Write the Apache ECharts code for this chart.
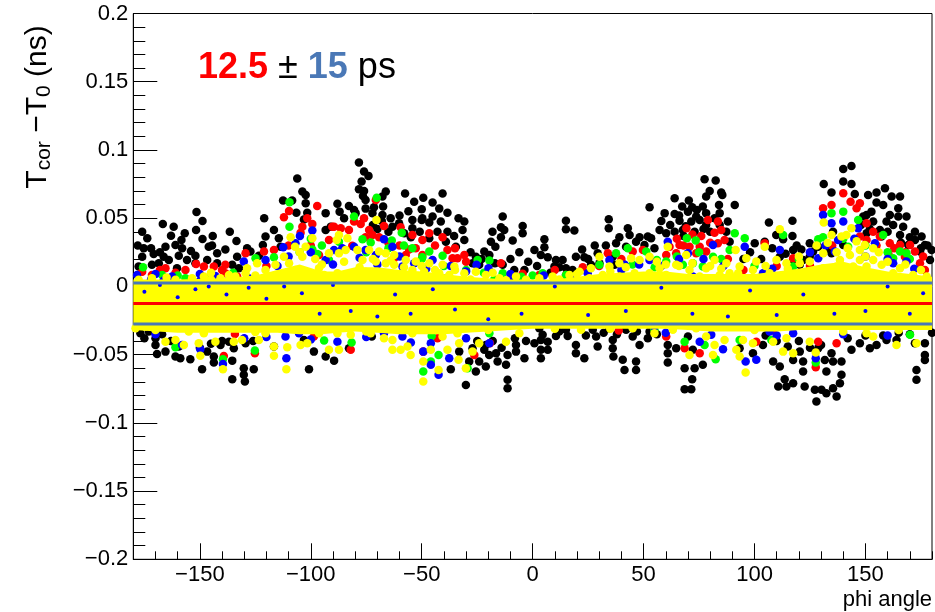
<!DOCTYPE html>
<html><head><meta charset="utf-8">
<script src="https://cdn.jsdelivr.net/npm/echarts@6/dist/echarts.min.js"></script>
<style>html,body{margin:0;padding:0;background:#fff}#c{width:935px;height:612px}</style>
</head><body><div id="c"></div>
<script>
const xRange = [-180, 180];
const yRange = [-0.2, 0.2];
const xMajorTicks = [-150, -100, -50, 0, 50, 100, 150];
const meanValue = -0.0125;
const bandLines = [0.0025, -0.0275];

// envelope of the region saturated by overlapping yellow markers
const corePhi    = [-180,-160,-140,-125,-115,-105,-95,-88,-80,-70,-60,-50,-40,-30,-20,-10,0,10,20,30,40,50,60,70,80,90,100,110,120,130,140,150,160,170,180];
const coreTop    = [0.005,0.005,0.006,0.008,0.012,0.016,0.011,0.011,0.014,0.014,0.012,0.011,0.009,0.007,0.006,0.005,0.005,0.005,0.007,0.009,0.010,0.011,0.011,0.009,0.009,0.009,0.009,0.011,0.013,0.016,0.018,0.014,0.011,0.009,0.007];
const coreBottom = [-0.032,-0.034,-0.034,-0.034,-0.034,-0.035,-0.035,-0.034,-0.033,-0.034,-0.035,-0.035,-0.035,-0.034,-0.033,-0.032,-0.031,-0.031,-0.031,-0.031,-0.031,-0.031,-0.031,-0.032,-0.033,-0.033,-0.033,-0.033,-0.032,-0.032,-0.032,-0.032,-0.032,-0.032,-0.032];

const blackPts = [
[-106.1,0.079],[-103.8,0.0695],[-102.3,0.067],[-112.5,0.063],[-108.4,0.063],[-106.5,0.054],[-102.3,0.061],[-101.6,0.054],[-103.1,0.049],[-93.3,0.0537],[-151.5,0.0546],[-148.8,0.048],[-166.7,0.0458],[-161.8,0.0438],[-121,0.05],[-176,0.04],[-173.7,0.0353],[-151.7,0.0414],[-148.8,0.0348],[-136.5,0.04],[-133.5,0.0333],[-116.6,0.0414],[-163,0.0372],[-158.3,0.034],[-156.8,0.039],[-161,0.0304],[-165.5,0.029],[-144.2,0.037],[-146,0.029],[-144.5,0.03],[-142.2,0.0243],[-138.5,0.027],[-175.3,0.028],[-176,0.0218],[-170.8,0.0238],[-166.3,0.0218],[-168.5,0.017],[-159.5,0.0224],[-155.8,0.0194],[-152,0.0224],[-152,0.017],[-160.3,0.0133],[-128.7,0.028],[-127.2,0.0255],[-123.4,0.0224],[-121.6,0.0304],[-120.4,0.0365],[-133.2,0.0218],[-135.4,0.0158],[-132.4,0.0133],[-114.4,0.0353],[-113.6,0.029],[-93.3,0.0414],[-91,0.0438],[-177.6,0.0145],[-171.6,0.0158],[-164,0.0194],[-146.7,0.0194],[-142.2,0.017],
[-178,0.03],[-172,0.028],[-168,0.025],[-158,0.028],[-154,0.026],
[-78.3,0.0908],[-76,0.0842],[-74,0.081],[-77.1,0.0768],[-78.3,0.0712],[-76,0.07],[-76.5,0.0663],[-66.2,0.0695],[-67.7,0.0658],[-67.4,0.0585],[-57.5,0.068],[-53.4,0.062],[-49.3,0.065],[-45.1,0.0614],[-40.6,0.068],[-38.4,0.054],[-42.1,0.057],[-50,0.0566],[-49.7,0.05],[-88,0.0605],[-82.8,0.059],[-87,0.0548],[-85,0.05],[-80.5,0.056],[-75.3,0.057],[-72.2,0.0537],[-54.2,0.0487],[-50,0.0487],[-46.6,0.0468],[-45.1,0.0512],[-41.4,0.0475],[-33.4,0.05],[-30.8,0.0475],[-31.6,0.0414],[-30.8,0.034],[-35.4,0.037],[-38.4,0.04],[-39.1,0.0328],[-34.6,0.029],[-42.9,0.04],[-46.6,0.0353],[-54.2,0.0426],[-50.9,0.04],[-54.9,0.036],[-63.2,0.0438],[-13.5,0.0512],[-14.3,0.0434],[-12.8,0.0414],[-4.5,0.0443],[-4.5,0.039],[-18.1,0.04],[-9,0.0336],[-14.3,0.036],[-18.8,0.0328],[-16.8,0.029],[-21.8,0.0255],[-19.5,0.023],[-25.6,0.0218],[-27.1,0.017],[-24.1,0.0158],[-8.3,0.012],[-3.7,0.012],[-13.5,0.0158],[-75.3,0.0634],[-79.8,0.0537],[-71.5,0.058],[-67.7,0.0524],[-60.2,0.0463],[-57.9,0.039],
[-72,0.045],[-68,0.048],[-64,0.05],[-60,0.052],[-56,0.055],[-70,0.042],[-65,0.04],[-28,0.025],[-23,0.02],[-17,0.017],[-10,0.02],[-6,0.025],[-2,0.018],
[77.5,0.0786],[82.5,0.0776],[79.8,0.07],[85,0.0688],[78.2,0.0658],[85.5,0.067],[64,0.0646],[70.4,0.0629],[52.7,0.058],[67.4,0.0585],[71.9,0.058],[76.7,0.0585],[84,0.0597],[59.5,0.0537],[64,0.0531],[70,0.0548],[73.7,0.0512],[78.2,0.0537],[84.3,0.0537],[82,0.05],[15,0.0482],[15,0.0419],[18.8,0.0409],[34.3,0.0492],[34.3,0.0426],[57.2,0.0414],[60.2,0.039],[64,0.04],[67.7,0.0414],[66.2,0.0482],[71.5,0.0475],[75.3,0.0487],[78.2,0.045],[84.3,0.045],[42.9,0.0426],[43.7,0.0377],[39.1,0.036],[37.6,0.0316],[48.2,0.036],[51.9,0.0365],[53.4,0.0353],[50.4,0.0304],[46.6,0.0328],[54.9,0.028],[42.1,0.029],[5.3,0.0346],[5.3,0.0287],[0.8,0.0267],[3.7,0.023],[6.8,0.0214],[10.5,0.0194],[13.5,0.0194],[9.8,0.0145],[15,0.0133],[22.3,0.027],[19.5,0.0218],[23.3,0.0214],[29.3,0.0243],[30.1,0.017],[26.3,0.0158],[36.1,0.0218],[36.9,0.0158],[41.4,0.0158],[87.3,0.04],[88.8,0.0328],[88,0.0475],
[62,0.045],[66,0.052],[69,0.044],[73,0.04],[77,0.042],[80,0.04],[74,0.056],[68,0.037],[58,0.048],[2,0.015],[8,0.01],[12,0.014],[18,0.012],[25,0.02],[28,0.03],[33,0.03],
[140,0.086],[143.7,0.0883],[131.2,0.0751],[140,0.0768],[143.7,0.0751],[134.7,0.0688],[145.2,0.0678],[151.2,0.067],[155,0.0688],[158.8,0.072],[165.6,0.0658],[161.8,0.0658],[155,0.0614],[158,0.0597],[164.8,0.0573],[168.5,0.0512],[164.8,0.0512],[161,0.0524],[91.1,0.0597],[106.5,0.0468],[117.1,0.0482],[117.1,0.037],[112.9,0.0346],[109.8,0.0377],[100.1,0.0316],[104.6,0.0328],[121.1,0.027],[117.4,0.0267],[124.9,0.0316],[126.4,0.0255],[128.7,0.029],[150.5,0.0524],[153.5,0.0475],[159.5,0.0475],[162.5,0.045],[167,0.0438],[172.3,0.04],[175.3,0.0365],[176.8,0.0304],[172.3,0.034],[169.3,0.0304],[165.6,0.0377],[156.5,0.0414],[157.2,0.0365],[150.5,0.039],[179.8,0.0267],[174.6,0.0255],[179.1,0.0194],[135.4,0.04],[138.5,0.034],[134,0.0267],[140,0.0304],[149,0.0512],[152.7,0.0548],[124.9,0.0218],[134.7,0.0243],[121.9,0.0194],[111.4,0.0218],[117.4,0.0194],[120.4,0.0158],
[148,0.045],[152,0.042],[160,0.04],[166,0.032],[170,0.036],[178,0.03],[175,0.028],[95,0.02],[98,0.025],[103,0.02],[108,0.028],[114,0.024],[119,0.03],
[-176.8,-0.0343],[-170,-0.038],[-170,-0.0429],[-165.5,-0.0478],[-169.3,-0.0495],[-161,-0.0514],[-158.8,-0.0526],[-154.3,-0.0534],[-149,-0.0607],[-143.7,-0.0558],[-143.7,-0.0514],[-135.4,-0.0544],[-135.4,-0.068],[-130.2,-0.06],[-130.2,-0.0648],[-129.7,-0.0697],[-125.7,-0.0607],[-134.7,-0.0453],[-136.9,-0.0405],[-129.4,-0.0416],[-100.8,-0.0607],[-98.6,-0.0478],[-93.3,-0.0514],[-103.1,-0.0392],[-116.6,-0.0441],[-173,-0.0331],[-159.5,-0.0441],[-146.7,-0.0478],[-140.7,-0.0429],
[-175,-0.038],[-167,-0.035],[-163,-0.04],[-150,-0.045],[-145,-0.042],[-140,-0.04],[-126,-0.04],
[-89.5,-0.0544],[-82.8,-0.0453],[-72.5,-0.0368],[-36.9,-0.0607],[-30.1,-0.0722],[-25.6,-0.0624],[-21.1,-0.0587],[-24.1,-0.0551],[-19.6,-0.0502],[-15.8,-0.0551],[-11.3,-0.0502],[-7.5,-0.0478],[-7.5,-0.0429],[-3.7,-0.0526],[-12,-0.0575],[-16.5,-0.049],[-21.8,-0.0465],[-11.3,-0.0685],[-11.3,-0.0746],[-28.6,-0.0551],[-21.1,-0.0429],[-33.1,-0.0478],[-27.1,-0.0453],
[-18,-0.04],[-14,-0.045],[-8,-0.038],[-3,-0.04],[-25,-0.04],
[0.8,-0.0416],[3.7,-0.0392],[3.7,-0.0465],[3.7,-0.0526],[6.8,-0.0465],[10.5,-0.0363],[6.8,-0.0405],[15.8,-0.0363],[19.5,-0.0429],[19.5,-0.049],[23.3,-0.0526],[29.3,-0.0441],[36.1,-0.0392],[36.1,-0.0453],[36.4,-0.0514],[40.6,-0.0538],[41.4,-0.0612],[46.6,-0.0612],[46.6,-0.0551],[45.1,-0.0368],[48.2,-0.0429],[51.9,-0.038],[52.7,-0.0331],[60.9,-0.0429],[60.9,-0.049],[60.9,-0.0558],[64.7,-0.0453],[68.5,-0.0754],[71.5,-0.0754],[71.9,-0.068],[73,-0.06],[76.7,-0.0575],[68.5,-0.06],[72.2,-0.0465],[70,-0.0368],[3,-0.0306],[15,-0.0318],[27.1,-0.0318],[34.6,-0.0306],[42.1,-0.0318],[4.5,-0.0355],[28.6,-0.0368],
[12,-0.033],[24,-0.036],[32,-0.034],[38,-0.035],[47,-0.033],[56,-0.035],
[103.8,-0.0429],[108.4,-0.0551],[111.4,-0.0587],[113.6,-0.068],[110.7,-0.0734],[114.4,-0.0734],[117.4,-0.071],[117.4,-0.0539],[121.9,-0.0551],[120.4,-0.0478],[121.9,-0.0624],[122.6,-0.0734],[127.2,-0.0758],[127.9,-0.0844],[130.2,-0.0758],[132.4,-0.0783],[135.4,-0.0746],[132.4,-0.0624],[131.7,-0.0539],[134.7,-0.049],[128.7,-0.0453],[135.4,-0.0551],[139.2,-0.0551],[139.2,-0.0648],[138.5,-0.071],[137,-0.0807],[143.7,-0.0465],[147.5,-0.0416],[152,-0.0453],[155,-0.0429],[159.5,-0.0392],[164,-0.0392],[173,-0.0612],[173,-0.0685],[176.8,-0.0502],[176.8,-0.0539],[176.8,-0.0416],[172.3,-0.0416],[93.3,-0.0453],[99.3,-0.049],
[105,-0.036],[110,-0.04],[115,-0.044],[120,-0.04],[125,-0.045],[130,-0.043],[142,-0.038],[150,-0.036],[158,-0.036],[165,-0.034],[170,-0.035],[180,-0.034]
];

const redPts = [
[-97.1,0.059],[-109.8,0.0553],[-112.1,0.0507],[-101.6,0.05],[-99.3,0.0458],[-103.8,0.0438],[-91.8,0.034],[-90.3,0.0438],[-151.7,0.0165],[-148.2,0.0145],[-143.7,0.0145],[-138.5,0.0158],[-165.5,0.0133],[-161,0.01],[-156.5,0.012],[-176,0.0108],[-171.6,0.0084],[-138.5,0.0097],[-133.2,0.0072],[-129.4,0.0243],[-121.1,0.0255],[-116.6,0.0267],[-104.6,0.0394],[-96.3,0.023],
[-70.7,0.0634],[-80.5,0.0475],[-76,0.05],[-77.5,0.0458],[-89.5,0.0438],[-86.5,0.0426],[-82.8,0.0414],[-73.7,0.0414],[-72.2,0.0377],[-75.3,0.036],[-69.2,0.036],[-67,0.0443],[-59.5,0.0434],[-54.2,0.0377],[-49.7,0.034],[-46.6,0.039],[-40.6,0.036],[-38.4,0.0267],[-36.1,0.0207],[-30.8,0.023],[-33.9,0.0207],[-52.7,0.028],[-49.7,0.023],[-57.2,0.023],[-14.3,0.017],[-9,0.0077],[-4.5,0.0092],[-81.3,0.0297],[-55.7,0.027],[-62.4,0.0207],
[-60,0.03],[-65,0.032],[-44,0.03],[-35,0.028],[-30,0.018],[-120,0.015],[-110,0.03],[-100,0.03],[-140,0.012],[-168,0.012],
[79,0.0487],[83.5,0.0475],[69.3,0.0426],[82,0.0394],[85,0.0414],[86.5,0.034],[83.5,0.0316],[76,0.037],[66.2,0.0304],[70.7,0.029],[75.3,0.029],[78.2,0.0255],[73.7,0.0243],[64.7,0.0243],[60.2,0.023],[61.7,0.029],[33.9,0.0243],[22.6,0.014],[15,0.0084],[3,0.0084],[49.7,0.0267],[45.1,0.0255],
[65,0.035],[72,0.038],[80,0.032],[88,0.02],[68,0.03],[10,0.012],[30,0.015],[40,0.02],
[140,0.0683],[143.3,0.062],[146,0.0573],[147.5,0.061],[134.7,0.0597],[130.9,0.0573],[150.5,0.0463],[153.5,0.04],[156.5,0.0365],[161,0.0316],[165.6,0.0304],[170.1,0.0304],[167.8,0.0218],[172.3,0.0255],[174.6,0.017],[160.3,0.0243],[150.5,0.034],[147.5,0.0365],[104.6,0.0316],[117.4,0.0207],[130.2,0.0097],[176.8,0.012],
[155,0.03],[163,0.028],[168,0.025],[176,0.022],[95,0.012],[110,0.015],[125,0.015],[135,0.03],
[-134.2,-0.0348],[-139.2,-0.051],[-125.2,-0.049],[-98.6,-0.0368],[-82,-0.0465],[-49.3,-0.0478],[-42.9,-0.038],[-19.3,-0.0416],[-26.3,-0.0502],[60.2,-0.0368],[68.5,-0.0453],[75.3,-0.049],[38.8,-0.0324],[127.6,-0.0592],[137,-0.0416],[128.7,-0.0405],[108.4,-0.0324],[100.8,-0.0405]
];

const greenPts = [
[-109.6,0.0617],[-109.6,0.0438],[-175.6,0.014],[-167,0.0084],[-156.5,0.006],[-149,0.0067],[-145.2,0.0077],[-116.6,0.0214],[-124.9,0.0207],[-97.1,0.0238],[-91.8,0.0194],[-99.3,0.027],
[-100,0.035],[-95,0.03],[-105,0.025],[-160,0.008],[-135,0.01],
[-70.3,0.065],[-80.5,0.0512],[-59,0.0394],[-76.7,0.0346],[-87.3,0.0328],[-54.2,0.028],[-46.6,0.0255],[-40.6,0.0224],[-49.7,0.0214],[-63.5,0.0336],[-73,0.0321],[-24.8,0.0194],[-19.5,0.019],[-13.5,0.0097],[-17.3,0.005],
[-75,0.025],[-65,0.028],[-58,0.03],[-50,0.02],[-40,0.015],[-30,0.012],[-22,0.01],[0,0.008],[-5,0.007],
[69.5,0.0353],[73.5,0.0336],[42.9,0.028],[37.6,0.0243],[51.2,0.0255],[56,0.0194],[67.7,0.0158],[72.2,0.017],[76.7,0.0145],[81.3,0.0218],[88.8,0.0267],[60.2,0.0182],[15,0.0084],[4.5,0.0097],[30.1,0.0158],
[65,0.022],[75,0.025],[85,0.02],[55,0.014],[45,0.016],
[134.7,0.0537],[140,0.0548],[146.7,0.0487],[130.9,0.036],[128.7,0.0346],[112.9,0.0377],[117.4,0.0145],[95.6,0.0353],[91.1,0.039],[158,0.0377],[165.6,0.0255],[168.5,0.0243],[162.5,0.0207],[142.2,0.029],
[140,0.035],[150,0.03],[160,0.025],[170,0.02],[120,0.02],[100,0.015],
[-139.6,-0.0534],[-161,-0.0446],[-94,-0.0397],[-125.2,-0.047],[-81.6,-0.0412],[-49.3,-0.0624],[-45.9,-0.0551],[-42.4,-0.0502],[-45.5,-0.0363],[-29.3,-0.06],[-19.5,-0.0343],[68.5,-0.0405],[77.5,-0.0429],[82.5,-0.0534],[54.9,-0.0318],[127.6,-0.0558],[107.6,-0.0392],[93.3,-0.0392],[170.1,-0.0355]
];

const bluePts = [
[-99.3,0.041],[-104.9,0.037],[-112.4,0.0287],[-106.9,0.0316],[-120.4,0.0194],[-130.2,0.0182],[-166.3,0.0043],[-162.5,0.0072],[-178.3,0.0084],[-143,0.0077],[-93.3,0.0194],
[-100,0.025],[-110,0.022],[-115,0.015],[-90,0.016],[-150,0.009],[-170,0.009],
[-67,0.0346],[-63.2,0.029],[-89.5,0.0267],[-75.3,0.0267],[-80.5,0.029],[-70.7,0.023],[-53.4,0.017],[-45.1,0.0194],[-36.9,0.015],[-25.3,0.0158],[-19.9,0.0133],[-85.8,0.028],[-58.7,0.0145],
[-60,0.022],[-70,0.016],[-78,0.021],[-48,0.013],[-30,0.011],[-10,0.009],
[60.9,0.0328],[70,0.0243],[81.3,0.0304],[34.6,0.0194],[41.4,0.0158],[72.2,0.0072],[63.2,0.006],[19.5,0.006],[24.8,0.0097],[52.7,0.0194],
[5,0.008],[40,0.012],[48,0.016],[58,0.015],[66,0.02],[77,0.02],[86,0.015],
[130.9,0.0524],[134.7,0.0463],[140,0.0475],[146.7,0.0426],[137.7,0.034],[154.3,0.0316],[111.4,0.0267],[95.6,0.029],[128.7,0.0207],[103.8,0.0097],[168.5,0.0182],[162.5,0.017],[136.2,0.0255],
[108,0.013],[125,0.025],[132,0.03],[145,0.035],[150,0.022],[160,0.02],[172,0.013],
[-172,0.005],[-150,0.004],[-128,0.006],[-85,0.0055],[-40,0.006],[-10,0.005],[30,0.0045],[95,0.005],[120,0.006],[155,0.0055],[178,0.005],
[-139.6,-0.0568],[-111,-0.0526],[-149.8,-0.046],[-158,-0.0429],[-111.4,-0.0368],[-105.3,-0.0343],[-88,-0.0405],[-54.9,-0.0412],[-45.9,-0.0416],[-45.9,-0.0575],[-42.4,-0.0648],[-49.3,-0.0478],[-37.6,-0.0526],[-19.5,-0.0416],[-67,-0.0343],[-58.7,-0.0368],[75.3,-0.0405],[85.8,-0.046],[80.5,-0.0355],[54.9,-0.0294],[127.6,-0.0526],[96,-0.0551],[100.8,-0.0538],[106.8,-0.0331],[117.4,-0.0343],
[-170,-0.035],[-130,-0.038],[-120,-0.037],[-100,-0.039],[-75,-0.037],[-30,-0.038],[60,-0.034],[110,-0.036],[140,-0.035],[160,-0.036]
];

// blue markers peeking through gaps inside the saturated yellow band
const blueSpecks = [
[-175,-0.004],[-168,0.001],[-160,-0.008],[-152,-0.002],[-146,0.0],[-138,-0.006],[-128,-0.001],[-120,-0.009],[-112,0.0],[-104,-0.005],[-96,-0.02],[-90,0.001],[-82,-0.018],[-70,-0.022],[-62,-0.006],[-55,-0.02],[-45,-0.002],[-35,-0.017],[-20,-0.024],[-5,-0.02],[10,0.0],[25,-0.021],[42,-0.018],[58,-0.001],[72,-0.02],[88,-0.022],[98,-0.003],[110,-0.021],[122,-0.006],[136,-0.02],[150,-0.018],[160,0.0],[170,-0.02],[176,-0.005]
];

const yellowPts = [
[-109.1,0.036],[-99.3,0.0353],[-102.3,0.029],[-107.1,0.029],[-103.8,0.0218],[-112.1,0.0218],[-109.8,0.017],[-115.9,0.0158],[-96.3,0.0133],[-91.8,0.0243],[-124.2,0.017],[-128.7,0.0133],[-129.4,0.0097],[-120.4,0.012],[-115.9,0.0084],[-136.9,0.0084],[-140.7,0.006],[-134,0.0072],[-148.2,0.0072],[-153.5,0.006],[-161,0.0048],[-171.6,0.006],[-177.6,0.0048],[-106.9,0.012],[-99.3,0.0084],[-94,0.0084],
[-105,0.025],[-98,0.02],[-95,0.016],[-110,0.01],[-125,0.008],[-145,0.01],
[-70.4,0.0487],[-87.3,0.0377],[-83.5,0.0353],[-88.3,0.034],[-84.3,0.0267],[-79,0.0267],[-73.7,0.0267],[-69.2,0.0255],[-66.2,0.0243],[-87.3,0.0243],[-76.7,0.0194],[-70.7,0.0182],[-66.2,0.017],[-62.4,0.023],[-62.4,0.0158],[-57.2,0.0194],[-52.7,0.0182],[-46.6,0.017],[-40.6,0.0158],[-35.3,0.0145],[-54.2,0.012],[-48.9,0.0108],[-42.1,0.0097],[-37.6,0.0084],[-30.8,0.0097],[-25.6,0.0108],[-21.1,0.0084],[-15,0.006],[-7.5,0.0072],[-3,0.0048],[-88,0.0097],[-81.3,0.0097],[-75.3,0.0108],[-67.7,0.0097],[-61.7,0.0084],
[-85,0.018],[-78,0.014],[-72,0.02],[-64,0.019],[-58,0.014],[-50,0.015],[-44,0.012],[-35,0.012],[-18,0.01],
[60.9,0.029],[69.2,0.023],[82,0.0194],[87.3,0.017],[78.2,0.0133],[70.7,0.012],[64.7,0.0158],[57.2,0.0133],[52.7,0.0218],[48.2,0.0194],[44.4,0.0207],[39.1,0.017],[34.6,0.0145],[30.1,0.0218],[26.3,0.0133],[21.1,0.0108],[16.6,0.0084],[9,0.0072],[3,0.006],[45.9,0.0097],[52.7,0.0097],[60.2,0.0084],[66.2,0.006],[75.3,0.0072],[84.3,0.0084],[88.8,0.0097],[39.1,0.0072],[31.6,0.0084],[25.6,0.006],
[60,0.016],[66,0.015],[72,0.017],[80,0.015],[85,0.013],[56,0.018],[42,0.014],[35,0.011],[20,0.009],
[111.4,0.0419],[131.2,0.0468],[134.7,0.0377],[139.2,0.0365],[143.7,0.0426],[141.4,0.0377],[149.7,0.0304],[153.5,0.028],[147.5,0.0267],[143,0.023],[138.5,0.0194],[147.5,0.0194],[153.5,0.0194],[157.3,0.0158],[150.5,0.0145],[144.5,0.0145],[137,0.0145],[131,0.0133],[124.9,0.0182],[131,0.0243],[104.6,0.029],[96.3,0.0207],[100.8,0.0182],[109.9,0.0194],[114.4,0.017],[120.4,0.017],[93.3,0.0145],[99.3,0.012],[106.8,0.0097],[114.4,0.0084],[124.9,0.0097],[135.4,0.0084],[144.5,0.0072],[155,0.0084],[162.5,0.0097],[171.5,0.0084],[177.6,0.0072],[165.6,0.0133],[91.5,0.0267],[92.6,0.0097],
[120,0.022],[128,0.03],[133,0.032],[137,0.025],[142,0.028],[146,0.033],[150,0.022],[156,0.025],[160,0.018],[168,0.016],[175,0.012],[105,0.015],[115,0.013],
[-165,0.0065],[-145,0.005],[-120,0.006],[-80,0.0055],[-55,0.006],[-28,0.005],[-12,0.0045],[12,0.005],[48,0.0055],[100,0.006],[140,0.0055],[170,0.006],
[-170,-0.032],[-155,-0.033],[-125,-0.0335],[-95,-0.032],[-75,-0.033],[-20,-0.032],[10,-0.031],[35,-0.031],[100,-0.032],[140,-0.033],[165,-0.032],
[-139.6,-0.0607],[-149.8,-0.0509],[-165.5,-0.0405],[-161,-0.0392],[-157.2,-0.0429],[-150.5,-0.0416],[-143,-0.0405],[-131,-0.0392],[-116.6,-0.0509],[-111,-0.0607],[-110.6,-0.0446],[-104.6,-0.0429],[-116.6,-0.0441],[-91.8,-0.0465],[-123.4,-0.0392],[-179,-0.0306],[-148.2,-0.0343],[-134.7,-0.0405],[-120.4,-0.0343],[-101.6,-0.0416],[-96.3,-0.0343],[-174.6,-0.0294],
[-87.3,-0.0465],[-82,-0.0355],[-73,-0.0343],[-67,-0.038],[-63.2,-0.0465],[-59.5,-0.0465],[-55,-0.0502],[-63.2,-0.0392],[-49.3,-0.0697],[-49.3,-0.0551],[-45.9,-0.0465],[-42.4,-0.0612],[-38.4,-0.0465],[-33.4,-0.0538],[-30.1,-0.06],[-33.1,-0.0416],[-27.1,-0.0478],[-24.1,-0.0416],[-12,-0.0405],[-6,-0.0343],[-88,-0.0343],[-54.2,-0.0343],[-40.6,-0.0368],[-33.9,-0.0343],[-56.4,-0.0441],
[70.7,-0.0502],[82,-0.0429],[81.3,-0.0502],[78.2,-0.0368],[86.5,-0.0392],[63.2,-0.0318],[54.9,-0.0343],[21.8,-0.0318],[45.1,-0.0306],[73.7,-0.0306],
[127.6,-0.0485],[96,-0.0631],[93.3,-0.0514],[99.3,-0.0416],[108.4,-0.0405],[112.9,-0.0478],[117.4,-0.049],[114.4,-0.038],[150.5,-0.0343],[164,-0.0429],[173,-0.0416],[153.5,-0.0368],[91.8,-0.0465],[94.8,-0.0392],[124.9,-0.0405]
];

const FONT = "'Liberation Sans', Arial, Helvetica, sans-serif";
const STEEL = '#4a78b6';
const DOT = 8.5;
const minusFmt = v => {
  const r = Math.round(v * 1000) / 1000;
  return String(r).replace('-', '\u2212');
};

const chart = echarts.init(document.getElementById('c'), null, {renderer: 'canvas'});

function dots(data, color, z, size) {
  return {
    type: 'scatter', data, symbol: 'circle', symbolSize: size || DOT, z,
    xAxisIndex: 0, yAxisIndex: 0,
    itemStyle: {color, opacity: 1, borderWidth: 0},
    silent: true, emphasis: {disabled: true}, animation: false
  };
}
function hline(v, color, z) {
  return {
    type: 'line', data: [[xRange[0], v], [xRange[1], v]], symbol: 'none', z,
    xAxisIndex: 0, yAxisIndex: 0,
    lineStyle: {color, width: 3}, silent: true, animation: false
  };
}

const coreData = corePhi.map((p, i) => [p, coreTop[i], coreBottom[i]]);

chart.setOption({
  animation: false,
  backgroundColor: '#fff',
  grid: {left: 133.3, right: 2, top: 13.5, bottom: 52.7, show: true, borderColor: '#000', borderWidth: 1, backgroundColor: 'transparent'},
  title: {
    text: '{r|12.5} {k|\u00b1} {b|15} {k|ps}',
    left: 198, top: 48, padding: 0,
    textStyle: {
      fontFamily: FONT, fontSize: 36, fontWeight: 'normal', color: '#000',
      rich: {
        r: {fontFamily: FONT, fontSize: 36, fontWeight: 'bold', color: '#ff0000', lineHeight: 40},
        b: {fontFamily: FONT, fontSize: 36, fontWeight: 'bold', color: STEEL, lineHeight: 40},
        k: {fontFamily: FONT, fontSize: 36, fontWeight: 'normal', color: '#000', lineHeight: 40}
      }
    }
  },
  graphic: [{
    type: 'text', x: 39, y: 107, rotation: Math.PI / 2, silent: true,
    style: {
      text: '{m|T}{s|cor}{m| \u2212T}{s|0}{m| (ns)}',
      align: 'center', verticalAlign: 'middle', fill: '#000',
      rich: {
        m: {fontFamily: FONT, fontSize: 30, fill: '#000', lineHeight: 32, padding: [0, 0, 8, 0], verticalAlign: 'top'},
        s: {fontFamily: FONT, fontSize: 21, fill: '#000', lineHeight: 21, verticalAlign: 'bottom'}
      }
    }
  }],
  xAxis: [{
    type: 'value', min: xRange[0], max: xRange[1], interval: 10, position: 'bottom',
    axisLine: {show: true, onZero: false, lineStyle: {color: '#000', width: 1}},
    axisTick: {show: true, inside: true, length: 8, lineStyle: {color: '#000', width: 1}},
    axisLabel: {show: false}, splitLine: {show: false}
  }, {
    type: 'value', min: xRange[0], max: xRange[1], position: 'bottom',
    axisLine: {show: false, onZero: false},
    axisTick: {show: true, inside: true, length: 16, customValues: xMajorTicks, lineStyle: {color: '#000', width: 1}},
    axisLabel: {show: true, customValues: xMajorTicks, margin: 5, color: '#000', fontFamily: FONT, fontSize: 22, formatter: minusFmt},
    splitLine: {show: false},
    name: 'phi angle', nameLocation: 'end', nameGap: 0,
    nameTextStyle: {fontFamily: FONT, fontSize: 22, color: '#000', align: 'right', verticalAlign: 'top', padding: [30, 0, 0, 0]}
  }],
  yAxis: {
    type: 'value', min: yRange[0], max: yRange[1], interval: 0.05,
    axisLine: {show: true, onZero: false, lineStyle: {color: '#000', width: 1}},
    axisTick: {show: true, inside: true, length: 24, lineStyle: {color: '#000', width: 1}},
    minorTick: {show: true, splitNumber: 5, length: 12, lineStyle: {color: '#000', width: 1}},
    axisLabel: {show: true, margin: 5, color: '#000', fontFamily: FONT, fontSize: 22, formatter: minusFmt},
    splitLine: {show: false}, minorSplitLine: {show: false}
  },
  series: [
    dots(blackPts, '#000000', 2),
    dots(redPts, '#ff0000', 3),
    dots(greenPts, '#00ff00', 4),
    dots(bluePts, '#0000ff', 5),
    {
      type: 'custom', data: coreData, z: 6, silent: true, clip: true,
      xAxisIndex: 0, yAxisIndex: 0,
      encode: {x: 0, y: [1, 2]},
      renderItem: (params, api) => {
        if (params.dataIndex !== 0) return null;
        const top = coreData.map(d => api.coord([d[0], d[1]]));
        const bot = coreData.map(d => api.coord([d[0], d[2]])).reverse();
        return {type: 'polygon', shape: {points: top.concat(bot)}, style: {fill: '#ffff00'}};
      }
    },
    dots(blueSpecks, '#0000ff', 6.5, 4),
    dots(yellowPts, '#ffff00', 7),
    hline(meanValue, '#ff0000', 10),
    hline(bandLines[0], STEEL, 10),
    hline(bandLines[1], STEEL, 10)
  ]
});
</script>
</body></html>
